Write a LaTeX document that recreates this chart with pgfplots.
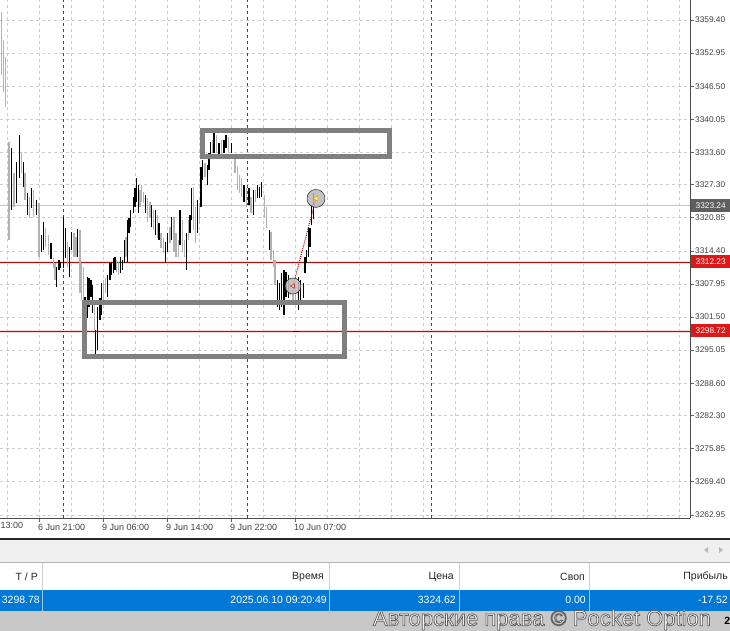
\documentclass[border=0pt]{standalone}
\usepackage{fontspec}
\setmainfont{Liberation Sans}
\usepackage{pgfplots}
\usepackage{pgfplotstable}
\pgfplotsset{compat=1.18}

\definecolor{bargray}{RGB}{178,178,178}
\definecolor{gridc}{RGB}{205,205,205}
\definecolor{sepc}{RGB}{70,70,70}
\definecolor{boxc}{RGB}{128,128,128}
\definecolor{redline}{RGB}{165,20,20}
\definecolor{redbox}{RGB}{222,24,24}
\definecolor{curbox}{RGB}{95,95,95}
\definecolor{rowblue}{RGB}{0,120,215}
\definecolor{band}{RGB}{240,240,240}
\definecolor{rowgray}{RGB}{200,200,200}

% bars: x (px position), low, high
\pgfplotstableread{
x lo hi
11.7 3322.4 3334.4
16.7 3323.7 3331.7
19.3 3328.6 3337.0
23.3 3326.8 3331.7
27.3 3321.4 3325.7
31.7 3322.7 3326.6
36.7 3321.4 3324.3
41.7 3314.2 3317.5
43.3 3314.6 3320.0
51.0 3312.8 3315.9
56.7 3307.3 3311.2
59.0 3310.7 3312.6
60.7 3311.0 3312.2
63.3 3311.0 3321.0
65.7 3313.0 3318.8
69.3 3309.3 3315.1
71.7 3314.6 3318.1
77.7 3313.2 3318.6
85.0 3302.9 3305.4
87.3 3301.3 3309.3
89.0 3303.4 3309.1
91.0 3305.4 3308.7
92.7 3302.3 3307.7
95.7 3294.1 3299.0
97.7 3295.1 3303.4
100.0 3300.9 3305.2
101.7 3301.9 3308.1
107.7 3305.4 3309.7
110.0 3308.7 3312.0
111.7 3309.7 3312.2
113.3 3310.1 3313.0
115.0 3310.7 3313.2
120.7 3310.1 3313.2
122.3 3310.7 3312.6
124.3 3312.0 3316.5
127.7 3312.2 3320.4
129.0 3317.9 3320.8
130.7 3319.0 3322.3
133.3 3321.8 3324.9
135.0 3322.9 3326.6
136.7 3323.9 3328.6
138.3 3321.8 3327.2
145.7 3321.8 3325.3
151.7 3319.0 3323.3
155.7 3317.5 3322.3
159.0 3316.5 3319.8
165.7 3312.0 3316.1
167.7 3314.2 3317.9
171.7 3316.5 3321.0
180.0 3315.5 3322.3
186.7 3310.7 3317.9
190.0 3317.9 3321.4
191.7 3320.4 3326.6
197.3 3317.9 3324.3
201.0 3322.9 3330.7
202.7 3328.2 3332.1
207.3 3327.2 3331.1
209.0 3330.2 3333.5
210.7 3333.1 3335.6
214.0 3333.5 3337.6
219.0 3333.1 3335.4
224.0 3333.5 3336.0
226.0 3334.4 3337.0
231.7 3333.5 3335.4
244.0 3323.9 3327.2
249.0 3323.3 3326.6
253.3 3321.4 3326.3
257.7 3324.7 3327.2
259.3 3324.7 3326.8
261.7 3324.9 3327.8
269.3 3314.6 3318.4
277.7 3303.4 3308.7
279.3 3302.9 3308.1
281.7 3303.4 3310.1
284.0 3301.9 3310.7
286.0 3305.4 3310.3
288.3 3305.2 3309.7
298.3 3302.9 3309.3
300.7 3304.1 3308.7
303.3 3305.2 3308.1
305.0 3310.1 3313.2
306.7 3312.0 3314.6
308.3 3313.2 3319.0
310.0 3315.1 3318.8
311.7 3319.4 3323.3
313.3 3320.7 3325.7
}\blackbars

\pgfplotstableread{
x lo hi
1.7 3348.7 3361.0
3.3 3345.4 3355.5
5.3 3342.4 3352.2
9.0 3316.5 3335.6
14.0 3322.9 3329.6
21.7 3329.6 3333.7
25.0 3324.3 3329.6
29.3 3320.8 3324.9
33.3 3321.0 3326.3
39.0 3313.2 3323.7
45.7 3315.1 3318.8
48.3 3313.6 3317.5
53.3 3311.0 3313.0
55.0 3308.7 3312.0
67.3 3311.2 3316.1
74.0 3313.2 3317.9
76.0 3313.2 3317.1
80.0 3306.2 3318.4
81.7 3304.8 3312.0
83.3 3304.8 3311.2
94.3 3299.0 3304.8
103.3 3304.8 3308.7
105.7 3306.2 3309.1
116.7 3310.3 3312.6
118.3 3309.7 3312.2
126.0 3313.2 3317.1
140.0 3322.9 3326.3
141.7 3323.9 3327.2
143.3 3323.7 3325.9
147.7 3320.0 3324.7
150.0 3320.8 3323.9
153.3 3318.4 3322.3
157.7 3316.9 3321.4
161.0 3314.9 3317.9
163.3 3314.0 3316.9
170.0 3315.9 3319.0
174.0 3314.2 3321.0
176.0 3313.2 3317.9
178.3 3313.2 3316.5
182.3 3314.2 3320.4
184.3 3313.2 3316.5
188.3 3316.5 3320.4
193.3 3318.4 3326.8
195.3 3315.9 3322.9
199.3 3319.8 3323.7
205.0 3328.8 3331.5
212.3 3333.5 3336.0
216.7 3333.5 3337.0
221.7 3333.1 3336.0
228.3 3333.5 3336.6
235.0 3329.6 3332.7
237.3 3326.3 3330.7
239.5 3325.7 3329.2
241.5 3324.9 3328.6
246.7 3322.9 3326.6
251.0 3321.8 3324.9
255.7 3323.9 3326.3
264.3 3321.0 3325.3
266.7 3318.8 3322.9
271.0 3312.6 3318.1
273.3 3311.2 3314.6
275.0 3307.7 3312.6
290.7 3305.8 3309.1
293.0 3304.8 3308.7
295.5 3304.8 3308.1
}\graybars

\begin{document}
\begin{tikzpicture}
\path[use as bounding box] (0pt,0pt) rectangle (730pt,-631pt);
\clip (0pt,0pt) rectangle (730pt,-631pt);
\fill[white] (0pt,0pt) rectangle (730pt,-631pt);

\begin{axis}[
  at={(0pt,0pt)}, anchor=north west,
  scale only axis, width=690pt, height=518pt,
  xmin=0, xmax=690, ymin=3262.33, ymax=3363.3,
  axis x line*=bottom, axis y line*=right,
  axis line style={draw=black!70, line width=0.9pt},
  tick align=outside, major tick length=4pt, minor tick length=0pt,
  tick style={black!60, line width=0.6pt},
  xtick={39,103,167,231,295},
  xticklabels={6 Jun 21:00, 9 Jun 06:00, 9 Jun 14:00, 9 Jun 22:00, 10 Jun 07:00},
  xticklabel style={anchor=north west, xshift=-2pt, inner sep=1pt, yshift=-1pt,
    font=\fontsize{9}{10}\selectfont, text=black!75},
  minor xtick={7,71,135,199,263,327,359,391,423,455,487,519,551,583,615,647,679},
  ytick={3262.95,3269.40,3275.85,3282.30,3288.60,3295.05,3301.50,3307.95,3314.40,3320.85,3327.30,3333.60,3340.05,3346.50,3352.95,3359.40},
  yticklabels={3262.95,3269.40,3275.85,3282.30,3288.60,3295.05,3301.50,3307.95,3314.40,3320.85,3327.30,3333.60,3340.05,3346.50,3352.95,3359.40},
  yticklabel style={font=\fontsize{8.3}{9}\selectfont, text=black!75, inner sep=1pt},
  /pgf/number format/assume math mode=true,
  xmajorgrids, xminorgrids, ymajorgrids,
  grid style={draw=gridc, dash pattern=on 3pt off 3pt, line width=0.6pt},
  minor grid style={draw=gridc, dash pattern=on 3pt off 3pt, line width=0.6pt},
  extra x ticks={63,247,431}, extra x tick labels={},
  extra x tick style={major tick length=0pt, grid=major,
    major grid style={draw=sepc, dash pattern=on 3pt off 3pt, line width=0.7pt}},
]
% price levels
\addplot[gray!45, line width=0.8pt] coordinates {(0,3323.24) (690,3323.24)};
\addplot[red!15, line width=3pt] coordinates {(0,3312.23) (690,3312.23)};
\addplot[redline, line width=0.9pt] coordinates {(0,3312.23) (690,3312.23)};
\addplot[red!15, line width=3pt] coordinates {(0,3298.72) (690,3298.72)};
\addplot[redline, line width=0.9pt] coordinates {(0,3298.72) (690,3298.72)};
\addplot[blue!70!black, line width=1pt] coordinates {(293,3298.72) (299,3298.72)};

% bars
\addplot[draw=none, mark=none, error bars/.cd, y dir=plus, y explicit, error mark=none,
  error bar style={draw=bargray, line width=1.45pt}]
  table[x=x, y=lo, y error expr=\thisrow{hi}-\thisrow{lo}] {\graybars};
\addplot[draw=none, mark=none, error bars/.cd, y dir=plus, y explicit, error mark=none,
  error bar style={draw=black, line width=1.45pt}]
  table[x=x, y=lo, y error expr=\thisrow{hi}-\thisrow{lo}] {\blackbars};

% zones
\addplot[draw=boxc, line width=5pt, line join=miter] coordinates
  {(202.5,3337.86) (389,3337.86) (389,3332.89) (202.5,3332.89)} --cycle;
\addplot[draw=boxc, line width=5pt, line join=miter] coordinates
  {(84.5,3304.33) (344.5,3304.33) (344.5,3293.81) (84.5,3293.81)} --cycle;

% trade
\addplot[only marks, mark=*, mark size=8pt, mark options={draw=none, fill=gray!50, fill opacity=0.85}]
  coordinates {(293,3307.55)};
\addplot[only marks, mark=*, mark size=9pt, mark options={draw=none, fill=gray!55, fill opacity=0.85}]
  coordinates {(316,3324.62)};
\addplot[densely dotted, line width=1pt, color=red!75!black] coordinates {(293,3307.55) (316,3324.62)};
\addplot[only marks, mark=triangle*, mark size=3pt, mark options={rotate=90, draw=orange, fill=yellow!70}]
  coordinates {(316,3324.62)};
\addplot[only marks, mark=triangle*, mark size=2.6pt, mark options={rotate=90, draw=red!80!black, fill=pink}]
  coordinates {(293,3307.55)};
\end{axis}

\begin{scope}[x=1pt, y=-1pt]
  % partial first time label
  \node[anchor=north west, inner sep=0pt, font=\fontsize{9}{10}\selectfont, text=black!75]
    at (0.5,522) {13:00};
  % price boxes on the right
  \node[fill=curbox, text=white, font=\fontsize{8.3}{9}\selectfont, inner sep=0pt,
    minimum width=39pt, minimum height=13pt, anchor=west] at (691,205.5) {3323.24};
  \node[fill=redbox, text=white, font=\fontsize{8.3}{9}\selectfont, inner sep=0pt,
    minimum width=39pt, minimum height=13pt, anchor=west] at (691,261.5) {3312.23};
  \node[fill=redbox, text=white, font=\fontsize{8.3}{9}\selectfont, inner sep=0pt,
    minimum width=39pt, minimum height=13pt, anchor=west] at (691,330.5) {3298.72};

  % terminal panel
  \fill[black!85] (0,537.5) rectangle (730,539.5);
  \fill[band] (0,539.5) rectangle (730,562);
  \fill[gray!55] (704,550) -- (708,547) -- (708,553) -- cycle;
  \fill[gray!55] (723,550) -- (719,547) -- (719,553) -- cycle;
  \draw[black!30, line width=0.8pt] (0,562.5) -- (730,562.5);
  \fill[white] (0,563) rectangle (730,589.5);
  \fill[rowblue] (0,589.5) rectangle (730,610.5);
  \fill[rowgray] (0,610.5) rectangle (730,631);
  \foreach \s in {42,329,459,589} {
    \draw[black!18, line width=0.8pt] (\s,563) -- (\s,589.5);
    \draw[white!60!rowblue, line width=0.8pt] (\s,589.5) -- (\s,610.5);
  }
  \begin{scope}[every node/.style={anchor=east, inner sep=0pt, font=\fontsize{10.5}{12}\selectfont}]
    \node[text=black!85] at (38,577) {T / P};
    \node[text=black!85] at (324,577) {Время};
    \node[text=black!85] at (454,577) {Цена};
    \node[text=black!85] at (585,577) {Своп};
    \node[text=black!85] at (728,577) {Прибыль};
    \node[text=white] at (40,600) {3298.78};
    \node[text=white] at (327,600) {2025.06.10 09:20:49};
    \node[text=white] at (456,600) {3324.62};
    \node[text=white] at (586,600) {0.00};
    \node[text=white] at (728,600) {-17.52};
  \end{scope}
  % watermark: white letters with a grey outline (text render mode 2)
  \node[text=white, font=\fontsize{22}{24}\selectfont, inner sep=0pt]
    at (542,620) {\special{pdf:code q 2 Tr 0.75 w 0.38 0.38 0.38 RG 1 1 1 rg}Авторские права © Pocket Option\special{pdf:code Q}};
  \node[anchor=east, inner sep=0pt, font=\bfseries\fontsize{10.5}{12}\selectfont, text=black]
    at (730.5,621) {2};
\end{scope}
\end{tikzpicture}
\end{document}
